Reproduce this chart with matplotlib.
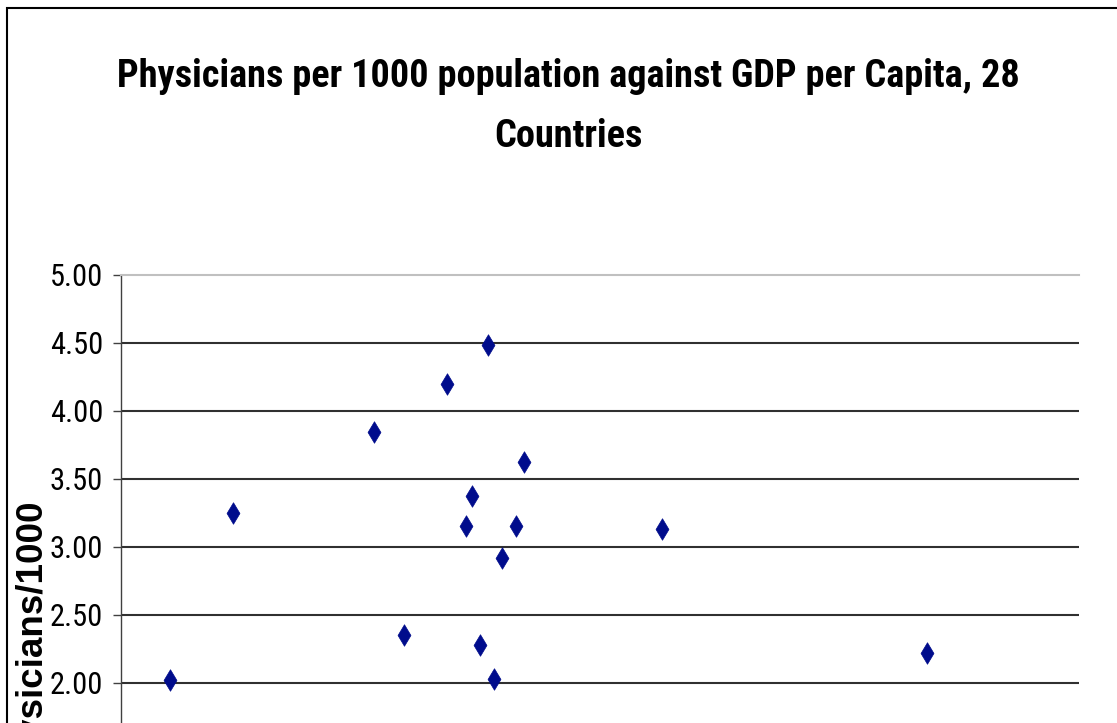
import numpy as np
import matplotlib
matplotlib.use("Agg")
import matplotlib.pyplot as plt
from matplotlib.patches import Rectangle

# GDP per capita (US$) and physicians per 1000 population
gdp_per_capita = [3600, 8200, 18500, 20700, 23800, 25200, 25650, 26250,
                  26800, 27250, 27850, 28850, 29450, 39550, 58900]
physicians = [2.02, 3.25, 3.84, 2.35, 4.20, 3.15, 3.37, 2.28,
              4.48, 2.03, 2.92, 3.15, 3.62, 3.13, 2.22]

y_ticks = [0.0, 0.5, 1.0, 1.5, 2.0, 2.5, 3.0, 3.5, 4.0, 4.5, 5.0]
title_lines = ["Physicians per 1000 population against GDP per Capita, 28", "Countries"]
y_label = "Physicians/1000"

narrow = ["Roboto Condensed", "Liberation Sans", "DejaVu Sans"]
matplotlib.rcParams["font.family"] = ["Liberation Sans", "DejaVu Sans"]

W, H = 1117, 723
fig = plt.figure(figsize=(W / 100, H / 100), dpi=100)
fig.patch.set_facecolor("white")

# chart border
fig.patches.append(Rectangle((6.5 / W, -0.2), 1.5, 1.2 - 7.5 / H, transform=fig.transFigure,
                             fill=False, edgecolor="black", linewidth=1.5))

ax = fig.add_axes([121 / W, 1 - 274.7 / H - 680 / H, 958 / W, 680 / H])
ax.scatter(gdp_per_capita, physicians, marker="d", s=120, color="#000C8C",
           edgecolors="#000C8C", linewidths=0.5, zorder=3)

ax.set_xlim(0, 70000)
ax.set_ylim(0, 5)
ax.set_xticks([])
ax.set_yticks(y_ticks)
ax.set_yticklabels(["%.2f" % v for v in y_ticks], family=narrow, fontsize=22)
ax.tick_params(axis="y", direction="out", length=6, width=1, color="#404040", pad=7)

for v in y_ticks[1:-1]:
    ax.axhline(v, color="#303030", linewidth=1.5, zorder=1)

for side in ["right", "bottom"]:
    ax.spines[side].set_visible(False)
ax.spines["top"].set_color("#c0c0c0")
ax.spines["top"].set_linewidth(1.5)
ax.spines["left"].set_color("#404040")
ax.spines["left"].set_linewidth(1)

for line, base in zip(title_lines, [87, 147]):
    fig.text(568 / W, 1 - base / H, line, ha="center", va="baseline", family=narrow,
             fontsize=27.5, fontweight="bold")
fig.text(31 / W, 1 - 641 / H, y_label, rotation=90, ha="center", va="center",
         fontsize=26.5, fontweight="bold")

fig.savefig("out.png", dpi=100)
